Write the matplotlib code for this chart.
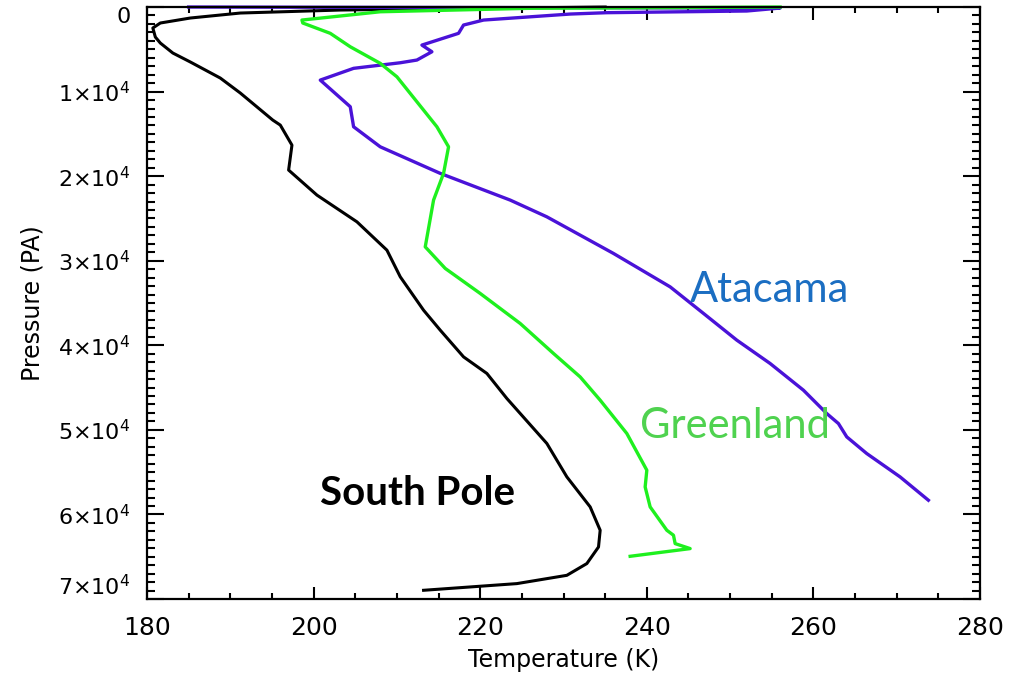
import matplotlib.pyplot as plt
from matplotlib.ticker import MultipleLocator, FuncFormatter

# Temperature profiles (K) against pressure (Pa)
sp_temp = [235.0, 220.0, 203.2, 191.2, 185.2, 181.6, 180.7, 181.0, 181.6, 183.1,
           185.2, 188.8, 191.2, 195.1, 196.0, 197.4, 197.0, 200.4, 205.2, 208.8,
           210.4, 213.2, 215.2, 218.0, 220.8, 223.2, 228.0, 230.4, 233.2, 234.4,
           234.2, 232.8, 230.4, 224.4, 213.2]
sp_pres = [0, 150, 355, 710, 1300, 1890, 2480, 3550, 4260, 5440,
           6500, 8400, 10170, 13370, 13960, 16330, 19280, 22240, 25400, 28750,
           31900, 35850, 38210, 41370, 43330, 46290, 51610, 55560, 59110, 61870,
           63850, 65810, 67200, 68180, 68970]

gl_temp = [256.0, 226.0, 208.0, 198.6, 198.7, 202.0, 204.4, 208.0, 210.0, 214.8,
           216.2, 215.6, 214.4, 213.4, 215.8, 220.0, 224.8, 228.8, 232.0, 234.4,
           237.6, 240.0, 239.8, 240.4, 242.4, 243.2, 243.4, 245.2, 238.0]
gl_pres = [0, 150, 560, 1540, 1890, 3110, 4700, 6660, 8250, 14160,
           16530, 19670, 22830, 28360, 30910, 33870, 37420, 40970, 43740, 46490,
           50430, 54770, 56750, 59110, 61870, 62460, 63450, 64040, 64950]

at_temp = [185.0, 256.0, 252.0, 235.2, 230.8, 220.4, 218.0, 217.4, 213.0, 214.2,
           212.4, 210.4, 204.8, 200.8, 204.4, 204.8, 208.0, 215.2, 223.6, 228.0,
           236.0, 242.8, 246.8, 250.8, 254.8, 258.8, 261.6, 263.0, 264.0, 266.4,
           270.4, 273.8]
at_pres = [0, 120, 470, 670, 830, 1540, 2130, 3110, 4500, 5290,
           6270, 6590, 7250, 8640, 11790, 14160, 16530, 19670, 22830, 24810,
           29140, 33090, 36230, 39390, 42150, 45310, 48070, 49250, 50830, 52800,
           55560, 58320]

x_ticks = [180, 200, 220, 240, 260, 280]
y_ticks = [0, 10000, 20000, 30000, 40000, 50000, 60000, 70000]

plt.rcParams['mathtext.fontset'] = 'dejavusans'

fig = plt.figure(figsize=(10.23, 6.82), dpi=100)
ax = fig.add_axes([0.1437, 0.1217, 0.8143, 0.8680])

ax.plot(sp_temp, sp_pres, color='black', lw=2.2, clip_on=False)
ax.plot(at_temp, at_pres, color='#4a12d8', lw=2.4, clip_on=False)
ax.plot(gl_temp, gl_pres, color='#1ef01e', lw=2.4, clip_on=False)

ax.set_xlim(180, 280)
ax.set_ylim(70000, 0)
ax.set_xticks(x_ticks)
ax.set_yticks(y_ticks)
ax.xaxis.set_minor_locator(MultipleLocator(5))
ax.yaxis.set_minor_locator(MultipleLocator(1000))


def pres_fmt(v, pos):
    if v == 0:
        return '0'
    return '%d×10$^{4}$' % round(v / 10000)


ax.yaxis.set_major_formatter(FuncFormatter(pres_fmt))

ax.tick_params(which='both', direction='in', top=True, right=True,
               width=1.5, colors='black')
ax.tick_params(axis='x', which='major', length=9, pad=12, labelsize=18)
ax.tick_params(axis='x', which='minor', length=4.5)
ax.tick_params(axis='y', which='major', length=12, pad=12, labelsize=16)
ax.tick_params(axis='y', which='minor', length=6)
for sp in ax.spines.values():
    sp.set_linewidth(1.6)

# keep the end labels inside the axis height
ylabels = ax.get_yticklabels()
ylabels[0].set_verticalalignment('top')
ylabels[-1].set_verticalalignment('bottom')

ax.set_xlabel('Temperature (K)', fontsize=17, labelpad=6)
ax.set_ylabel('Pressure (PA)', fontsize=17, labelpad=10)

ax.text(245.2, 34900, 'Atacama', color='#1b6ec2', fontsize=30,
        family='Lato', va='baseline')
ax.text(239.2, 50990, 'Greenland', color='#4fd24f', fontsize=30,
        family='Lato', va='baseline')
ax.text(200.8, 58920, 'South Pole', color='black', fontsize=29,
        family='Lato', fontweight='bold', va='baseline')

fig.savefig('out.png', dpi=100)
